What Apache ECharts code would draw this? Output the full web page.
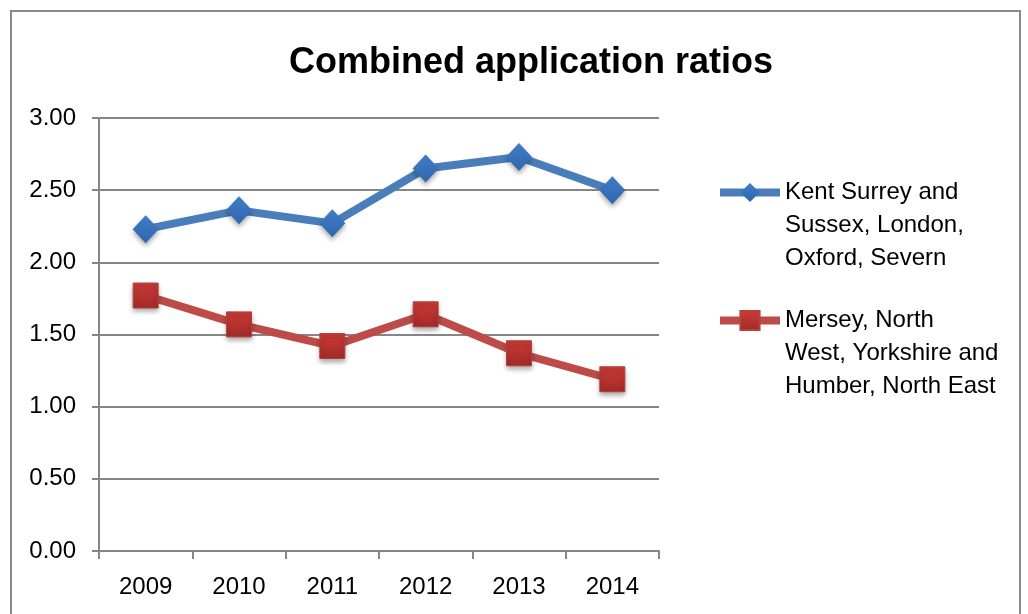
<!DOCTYPE html>
<html>
<head>
<meta charset="utf-8">
<script src="https://cdn.jsdelivr.net/npm/echarts@6/dist/echarts.min.js"></script>
<style>
html,body{margin:0;padding:0;background:#fff;}
#container{width:1028px;height:614px;}
</style>
</head>
<body>
<div id="container"></div>
<script>
var years = ['2009', '2010', '2011', '2012', '2013', '2014'];
var southNames = 'Kent Surrey and Sussex, London, Oxford, Severn';
var northNames = 'Mersey, North West, Yorkshire and Humber, North East';
var southValues = [2.23, 2.36, 2.27, 2.65, 2.73, 2.50];
var northValues = [1.77, 1.57, 1.42, 1.64, 1.37, 1.19];
var yTicks = [0, 0.5, 1, 1.5, 2, 2.5, 3];

// legend text is wrapped by hand like the original,
// two blank lines in front so the icon sits on the first line
var legendLines = {};
legendLines[southNames] = '\n\nKent Surrey and\nSussex, London,\nOxford, Severn';
legendLines[northNames] = '\n\nMersey, North\nWest, Yorkshire and\nHumber, North East';

var font = 'Liberation Sans';
var gridColor = '#868686';

var chart = echarts.init(document.getElementById('container'));

function legendFor(name, top){
	return {
		data: [name],
		orient: 'vertical',
		left: 716,
		top: top,
		padding: 0,
		itemWidth: 60,
		itemHeight: 24,
		itemGap: 4,
		lineStyle: {width: 8},
		formatter: function(n){ return legendLines[n]; },
		textStyle: {
			fontFamily: font,
			fontSize: 24,
			lineHeight: 33,
			color: '#000'
		}
	};
}

var option = {
	animation: false,
	title: {
		text: 'Combined application ratios',
		left: 526,
		textAlign: 'center',
		top: 40,
		textStyle: {fontFamily: font, fontSize: 36, fontWeight: 'bold', color: '#000'}
	},
	graphic: [{
		type: 'rect',
		shape: {x: 11, y: 11, width: 1009, height: 640},
		style: {fill: 'none', stroke: '#888', lineWidth: 2},
		silent: true
	}],
	legend: [legendFor(southNames, 110), legendFor(northNames, 238)],
	grid: {left: 99, right: 369, top: 118, bottom: 63},
	xAxis: {
		type: 'category',
		data: years,
		boundaryGap: true,
		axisLine: {lineStyle: {color: gridColor, width: 2}},
		axisTick: {show: true, length: 8, lineStyle: {color: gridColor, width: 2}},
		axisLabel: {fontFamily: font, fontSize: 24, color: '#000', margin: 24}
	},
	yAxis: {
		type: 'value',
		min: 0,
		max: 3,
		interval: 0.5,
		axisLine: {show: true, lineStyle: {color: gridColor, width: 2}},
		axisTick: {show: true, length: 7, lineStyle: {color: gridColor, width: 2}},
		splitLine: {lineStyle: {color: gridColor, width: 2}},
		axisLabel: {
			fontFamily: font, fontSize: 24, color: '#000', margin: 23,
			formatter: function(v){ return v.toFixed(2); }
		}
	},
	series: [{
		name: southNames,
		type: 'line',
		data: southValues,
		symbol: 'diamond',
		symbolSize: [26, 28],
		lineStyle: {color: '#4A7EBB', width: 8},
		itemStyle: {
			color: new echarts.graphic.LinearGradient(0, 0, 0, 1, [
				{offset: 0, color: '#3F7CC6'}, {offset: 1, color: '#2F67AE'}]),
			borderWidth: 0,
			shadowColor: 'rgba(0,0,0,0.35)', shadowBlur: 5, shadowOffsetY: 3
		}
	}, {
		name: northNames,
		type: 'line',
		data: northValues,
		symbol: 'rect',
		symbolSize: 25,
		lineStyle: {color: '#BE4B48', width: 8},
		itemStyle: {
			color: new echarts.graphic.LinearGradient(0, 0, 0, 1, [
				{offset: 0, color: '#CC3B37'}, {offset: 1, color: '#A12A28'}]),
			borderColor: '#B5413E', borderWidth: 1,
			shadowColor: 'rgba(0,0,0,0.35)', shadowBlur: 5, shadowOffsetY: 3
		}
	}]
};
chart.setOption(option);
</script>
</body>
</html>
